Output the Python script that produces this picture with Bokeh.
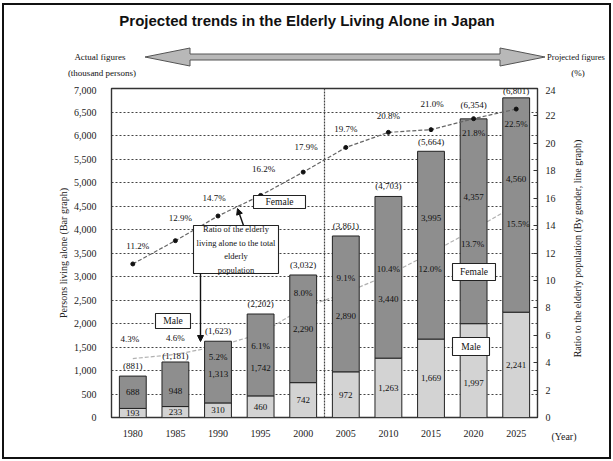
import math
import numpy as np
from bokeh.plotting import figure
from bokeh.layouts import row, column
from bokeh.models import (ColumnDataSource, Range1d, LinearAxis, FixedTicker, Label,
                          BoxAnnotation, Arrow, NormalHead, Span, Title, Spacer, Div,
                          NumeralTickFormatter)
from bokeh.core.properties import value
from bokeh.embed import file_html
from bokeh.resources import INLINE

# ---------------- data ----------------
years = ["1980", "1985", "1990", "1995", "2000", "2005", "2010", "2015", "2020", "2025"]
male = [193, 233, 310, 460, 742, 972, 1263, 1669, 1997, 2241]
female = [688, 948, 1313, 1742, 2290, 2890, 3440, 3995, 4357, 4560]
totals = [881, 1181, 1623, 2202, 3032, 3861, 4703, 5664, 6354, 6801]
female_ratio = [11.2, 12.9, 14.7, 16.2, 17.9, 19.7, 20.8, 21.0, 21.8, 22.5]
male_ratio = [4.3, 4.6, 5.2, 6.1, 8.0, 9.1, 10.4, 12.0, 13.7, 15.5]
left_ticks = list(range(0, 7001, 500))
right_ticks = list(range(0, 25, 2))

title_text = "Projected trends in the Elderly Living Alone in Japan"
header_left = ["Actual figures", "(thousand persons)"]
header_right = ["Projected figures", "(%)"]
left_axis_label = "Persons living alone (Bar graph)"
right_axis_label = "Ratio to the elderly population (By gender, line graph)"

# ---------------- label styling offsets (px, positive = up) ----------------
female_pct_dy = [18, 23, 18, 26, 25, 18, 16, 26, -14, -15]
female_pct_dx = [5, 5, -4, 3, 3, 0, 0, 1, 0, 0]
male_pct_dy = [20, 16, -11, -12, 15, 15, 6, -16, -14, -19]
male_pct_dx = [-3, 0, 0, 0, 0, 0, 0, -1, -1, 2]
female_val_dy = [0, -7, -2, -13, 0, -12, -22, 27, 24, 26]
male_val_dy = [0, 0, 0, 0, 0, 0, 0, 0, -12, 0]
total_dy = [10, 6, 10, 10, 10, 10, 10, 9, 14, 7]

SERIF = "Liberation Serif"
PAGE_W, PAGE_H = 613, 461
PAD = 4                      # left/right strips holding the outer border
HEAD_H = 86
FOOT_H = 4
INNER_W = PAGE_W - 2 * PAD   # 605
MAIN_H = PAGE_H - HEAD_H - FOOT_H  # 371

# plot frame in page pixels
L, R, T, B = 111, 537, 88, 417

def X(px):
    return (px - L) / (R - L) * 10.0

def Y(py):
    return (B - py) / (B - T) * 7000.0

xs = np.arange(len(years)) + 0.5
male_a = np.array(male, dtype=float)
female_a = np.array(female, dtype=float)

src = ColumnDataSource(dict(
    x=xs,
    male=male_a,
    top=male_a + female_a,
    male_mid=male_a / 2.0,
    female_mid=male_a + female_a / 2.0,
    male_lbl=[f"{v:,}" for v in male],
    female_lbl=[f"{v:,}" for v in female],
    total_lbl=[f"({v:,})" for v in totals],
    male_dy=[-d for d in male_val_dy],
    female_dy=[-d for d in female_val_dy],
    total_dy=[-d for d in total_dy],
))

# ================= main chart =================
p = figure(width=INNER_W, height=MAIN_H, x_range=Range1d(0, 10), y_range=Range1d(0, 7000),
           output_backend="svg", toolbar_location=None, title=None,
           min_border_left=L - PAD, min_border_right=(PAGE_W - PAD) - R,
           min_border_top=T - HEAD_H, min_border_bottom=(PAGE_H - FOOT_H) - B)
p.background_fill_color = "white"
p.border_fill_color = "white"
p.outline_line_color = "#333333"
p.outline_line_width = 1.4

p.xgrid.grid_line_color = None
p.ygrid.ticker = FixedTicker(ticks=left_ticks)
p.ygrid.grid_line_color = "#444444"
p.ygrid.grid_line_dash = "2 2"
p.ygrid.grid_line_width = 1

ya = p.yaxis[0]
ya.ticker = FixedTicker(ticks=left_ticks)
ya.formatter = NumeralTickFormatter(format="0,0")
ya.axis_line_color = None
ya.major_tick_line_color = None
ya.minor_tick_line_color = None
ya.major_label_standoff = 9
ya.major_label_text_font = SERIF
ya.major_label_text_font_size = "10px"
ya.major_label_text_color = "#222222"
ya.axis_label = left_axis_label
ya.axis_label_standoff = 2
ya.axis_label_text_font = SERIF
ya.axis_label_text_font_size = "10px"
ya.axis_label_text_font_style = "normal"
ya.axis_label_text_color = "#222222"

xa = p.xaxis[0]
xa.ticker = FixedTicker(ticks=list(xs))
xa.major_label_overrides = {float(x): y for x, y in zip(xs, years)}
xa.axis_line_color = None
xa.major_tick_line_color = None
xa.minor_tick_line_color = None
xa.major_label_standoff = 6
xa.major_label_text_font = SERIF
xa.major_label_text_font_size = "10px"
xa.major_label_text_color = "#222222"

p.extra_y_ranges = {"pct": Range1d(0, 24)}
ra = LinearAxis(y_range_name="pct", ticker=FixedTicker(ticks=right_ticks))
ra.axis_line_color = None
ra.major_tick_in = 4
ra.major_tick_out = 0
ra.major_tick_line_color = "#333333"
ra.minor_tick_line_color = None
ra.major_label_standoff = 8
ra.major_label_text_font = SERIF
ra.major_label_text_font_size = "10px"
ra.major_label_text_color = "#222222"
p.add_layout(ra, "right")

# "(Year)" unit label beside the last year
p.add_layout(Title(text="(Year)", align="right", offset=-39, standoff=-18,
                   vertical_align="top",
                   text_font=SERIF, text_font_size="10px", text_font_style="normal",
                   text_color="#222222"), "below")

# male ratio line (behind the bars)
p.line(xs, male_ratio, y_range_name="pct", line_color="#b0b0b0", line_width=1.2,
       line_dash="4 2")

# bars
p.vbar(x="x", bottom=0, top="male", width=0.63, source=src,
       fill_color="#d3d3d3", line_color="#222222", line_width=1)
p.vbar(x="x", bottom="male", top="top", width=0.63, source=src,
       fill_color="#8e8e8e", line_color="#222222", line_width=1)

# female ratio line
p.line(xs, female_ratio, y_range_name="pct", line_color="#666666", line_width=1.2,
       line_dash="4 2")
p.scatter(xs, female_ratio, y_range_name="pct", size=4, marker="circle",
          fill_color="#111111", line_color="#111111")

txt = dict(text_font=value(SERIF), text_align="center", text_baseline="middle",
           text_color="#111111")

p.text(x="x", y="male_mid", text="male_lbl", y_offset="male_dy", source=src,
       text_font_size="9px", **txt)
p.text(x="x", y="female_mid", text="female_lbl", y_offset="female_dy", source=src,
       text_font_size="9px", **txt)
p.text(x="x", y="top", text="total_lbl", y_offset="total_dy", source=src,
       text_font_size="9px", **txt)

p.text(x=xs, y=female_ratio, y_range_name="pct", text=[f"{v}%" for v in female_ratio],
       x_offset=female_pct_dx, y_offset=[-d for d in female_pct_dy],
       text_font_size="9px", **txt)
p.text(x=xs, y=male_ratio, y_range_name="pct", text=[f"{v}%" for v in male_ratio],
       x_offset=male_pct_dx, y_offset=[-d for d in male_pct_dy],
       text_font_size="9px", **txt)

# divider between actual and projected figures
p.add_layout(Span(location=5, dimension="height", line_color="#444444",
                  line_dash="2 1", line_width=1.2))

def box(x0, x1, y0, y1, text, size="9.5px", lh=1.2):
    p.add_layout(BoxAnnotation(left=X(x0), right=X(x1), top=Y(y0), bottom=Y(y1),
                               fill_color="white", fill_alpha=1.0,
                               line_color="#222222", line_width=1.1, line_alpha=1.0))
    p.add_layout(Label(x=X((x0 + x1) / 2), y=Y((y0 + y1) / 2), text=text,
                       text_font=SERIF, text_font_size=size, text_align="center",
                       text_baseline="middle", text_color="#111111",
                       text_line_height=lh))

box(253, 305, 195, 208, "Female")
box(155, 190, 313, 328, "Male")
box(452, 495, 263, 280, "Female")
box(452, 489, 337, 355, "Male")
box(193, 278, 225, 273,
    "Ratio of the elderly\nliving alone to the total\nelderly\npopulation",
    size="8.5px", lh=1.35)

p.add_layout(Arrow(x_start=X(243), y_start=Y(225), x_end=X(237), y_end=Y(208),
                   line_color="#111111", line_width=1.4,
                   end=NormalHead(size=6, fill_color="#111111", line_color="#111111")))
p.add_layout(Arrow(x_start=X(200), y_start=Y(273), x_end=X(200), y_end=Y(341),
                   line_color="#111111", line_width=1.4,
                   end=NormalHead(size=6, fill_color="#111111", line_color="#111111")))

# ================= header (title + actual/projected arrow), inline SVG =================
def hx(px):
    return px - PAD

arrow_x = [145, 190, 190, 500, 500, 545, 500, 500, 190, 190]
arrow_y = [57, 48, 54, 54, 48, 57, 66, 60, 60, 66]
arrow_pts = " ".join(f"{hx(a)},{b}" for a, b in zip(arrow_x, arrow_y))

def stext(x, y, s, size, family=SERIF, weight="normal", extra=""):
    return (f'<text x="{x}" y="{y}" {extra} '
            f'style="font-family:\'{family}\';font-weight:{weight};font-size:{size};'
            f'fill:#111111;text-anchor:middle;dominant-baseline:central">{s}</text>')

header_svg = (
    f'<svg xmlns="http://www.w3.org/2000/svg" width="{INNER_W}" height="{HEAD_H}" '
    f'style="display:block">'
    f'<rect x="0" y="0" width="{INNER_W}" height="{HEAD_H}" fill="#ffffff"/>'
    f'<line x1="0" y1="4" x2="{INNER_W}" y2="4" stroke="#111111" stroke-width="2"/>'
    + stext(hx(307), 20, title_text, "15px", "Liberation Sans", "bold")
    + f'<polygon points="{arrow_pts}" fill="#b8b8b8" stroke="#555555" stroke-width="1"/>'
    + stext(hx(100), 57, header_left[0], "9px")
    + stext(hx(102), 73, header_left[1], "9px")
    + stext(hx(576), 57, header_right[0], "8.5px")
    + stext(hx(578), 73, header_right[1], "9px")
    + '</svg>'
)
header = Div(text=header_svg, width=INNER_W, height=HEAD_H,
             styles={"margin": "0", "padding": "0", "overflow": "hidden",
                     "line-height": "0"})

# ================= right axis title (reads bottom to top), overlaid =================
RL_W = 39          # overlay strip width, spans page x 570..609
rl_cx = 577 - (PAGE_W - PAD - RL_W)
rl_cy = (T + B) / 2 - 4
right_svg = (
    f'<svg xmlns="http://www.w3.org/2000/svg" width="{RL_W}" height="{PAGE_H}" '
    f'style="display:block">'
    + stext(0, 0, right_axis_label, "10px",
            extra=f'transform="translate({rl_cx},{rl_cy}) rotate(-90)"')
    + '</svg>'
)
right_label = Div(text=right_svg, width=RL_W, height=PAGE_H,
                  styles={"margin": f"0 0 0 -{RL_W}px", "padding": "0",
                          "overflow": "visible", "line-height": "0",
                          "pointer-events": "none"})

# ================= outer border strips =================
mask_tb = "linear-gradient(to bottom, #ffffff 0px, #ffffff 3px, transparent 3px, transparent 459px, #ffffff 459px)"
strip_l = Spacer(width=PAD, height=PAGE_H, styles={
    "background": mask_tb + ", linear-gradient(to right, #ffffff 0px, #ffffff 2px, #111111 2px, #111111 4px)"})
strip_r = Spacer(width=PAD, height=PAGE_H, styles={
    "background": mask_tb + ", linear-gradient(to right, #111111 0px, #111111 2px, #ffffff 2px, #ffffff 4px)"})
strip_b = Spacer(width=INNER_W, height=FOOT_H, styles={
    "background": "linear-gradient(to bottom, #111111 0px, #111111 2px, #ffffff 2px, #ffffff 4px)"})

layout = row(strip_l, column(header, p, strip_b), right_label, strip_r)

open("out.html", "w").write(file_html(layout, INLINE))
